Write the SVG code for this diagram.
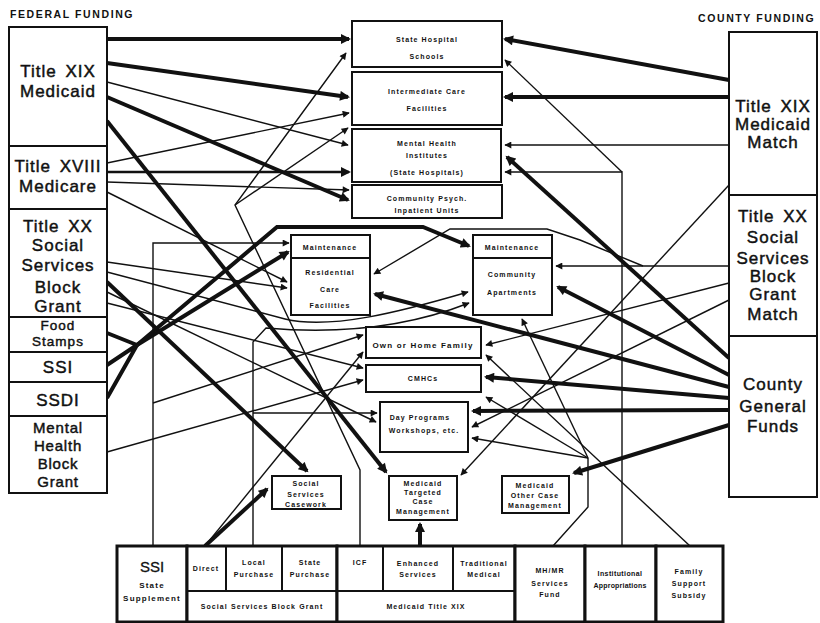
<svg xmlns="http://www.w3.org/2000/svg" width="820" height="623" viewBox="0 0 820 623">
<style>
.bx{fill:#fff;stroke:#111;stroke-width:2}
.bt{font-family:"Liberation Sans",Arial,sans-serif;font-size:17px;letter-spacing:1px;word-spacing:3px;text-anchor:middle;fill:#111;stroke:#111;stroke-width:0.45}
.bs{font-size:15px;letter-spacing:0.8px}
.bf{font-size:13.5px;letter-spacing:1px}
.hd{font-family:"Liberation Sans",Arial,sans-serif;font-size:10.5px;font-weight:bold;letter-spacing:1.6px;fill:#111}
.st{font-family:"Liberation Sans",Arial,sans-serif;font-size:7px;font-weight:bold;letter-spacing:1.1px;text-anchor:middle;fill:#111}
.sm{font-family:"Liberation Sans",Arial,sans-serif;font-size:8px;font-weight:bold;letter-spacing:1.2px;text-anchor:middle;fill:#111}
.t{fill:none;stroke:#111;stroke-width:1.4}
.m{fill:none;stroke:#111;stroke-width:2.5}
.k{fill:none;stroke:#111;stroke-width:4}
.ta{marker-end:url(#a)}
.ka{marker-end:url(#A)}
</style>
<defs>
<marker id="a" viewBox="0 0 10 10" refX="9" refY="5" markerUnits="userSpaceOnUse" markerWidth="8" markerHeight="7" orient="auto"><path d="M0,0 L10,5 L0,10 z" fill="#111"/></marker>
<marker id="A" viewBox="0 0 10 10" refX="8" refY="5" markerUnits="userSpaceOnUse" markerWidth="11" markerHeight="10" orient="auto"><path d="M0,0 L10,5 L0,10 z" fill="#111"/></marker>
</defs>
<rect width="820" height="623" fill="#fff"/>

<text class="hd" x="10" y="18">FEDERAL FUNDING</text>
<text class="hd" x="698" y="22">COUNTY FUNDING</text>

<g id="connectors">
<!-- federal -->
<path class="k ka" d="M107,39 L349,39"/>
<path class="k ka" d="M107,63 L348,97"/>
<path class="t ta" d="M107,82 L348,145"/>
<path class="k ka" d="M107,97 L348,200"/>
<path class="k ka" d="M107,121 L386,472"/>
<path class="t ta" d="M107,163 L349,113"/>
<path class="m ka" d="M107,172 L349,172"/>
<path class="t ta" d="M107,182 L349,190"/>
<path class="t ta" d="M107,192 L287,282"/>
<path class="t ta" d="M107,262 L287,288"/>
<path class="k ka" d="M107,282 L307,471"/>
<path class="t ta" d="M107,272 L285,319 C330,330 400,312 468,292"/>
<path class="t ta" d="M107,292 L376,422"/>
<path class="t ta" d="M107,303 L363,368"/>
<path class="k" d="M107,333 L137,345 M107,365 L137,345 M107,398 L137,345"/>
<path class="k ka" d="M137,345 L288,252"/>
<path class="k ka" d="M137,345 L277,227 L423,227 L469,246"/>
<path class="t ta" d="M107,452 L363,380"/>
<!-- bottom sources -->
<path class="t ta" d="M153,546 L153,243 L289,243"/>
<path class="t ta" d="M153,403 L363,335"/>
<path class="k ka" d="M205,546 L267,489"/>
<path class="t ta" d="M205,546 L363,352"/>
<path class="t ta" d="M253,546 L253,342 L266,328 Q380,338 469,303"/>
<path class="t ta" d="M253,413 L377,413"/>
<path class="t ta" d="M360,546 L360,470 L235,205 L346,53"/>
<path class="t ta" d="M235,205 L348,128"/>
<path class="k ka" d="M420,546 L420,524"/>
<path class="t" d="M553,546 L588,507 L588,458"/>
<path class="t ta" d="M588,458 L522,319"/>
<path class="t ta" d="M588,458 L486,397"/>
<path class="t ta" d="M588,458 L472,438"/>
<path class="t ta" d="M622,546 L622,172 L505,172"/>
<path class="t ta" d="M622,172 L505,60"/>
<path class="t ta" d="M690,546 L486,355"/>
<!-- county -->
<path class="k ka" d="M729,80 L505,39"/>
<path class="k ka" d="M729,97 L505,97"/>
<path class="t ta" d="M729,145 L505,145"/>
<path class="t ta" d="M729,185 L461,475"/>
<path class="t ta" d="M729,266 L556,266"/>
<path class="t ta" d="M643,266 L580,240 L547,229 L450,229 L374,274"/>
<path class="t ta" d="M729,283 L486,345"/>
<path class="t ta" d="M729,300 L472,427"/>
<path class="k ka" d="M729,358 L507,157"/>
<path class="k ka" d="M729,375 L558,287"/>
<path class="k ka" d="M729,387 L375,294"/>
<path class="k ka" d="M729,398 L486,377"/>
<path class="k ka" d="M729,410 L473,411"/>
<path class="k ka" d="M729,425 L574,473"/>
</g>

<!-- federal boxes -->
<g id="n-fed-xix"><rect class="bx" x="9" y="27" width="98" height="119"/><text class="bt" x="58" y="77">Title XIX</text><text class="bt" x="58" y="97">Medicaid</text></g>
<g id="n-fed-xviii"><rect class="bx" x="9" y="146" width="98" height="63"/><text class="bt" x="58" y="172">Title XVIII</text><text class="bt" x="58" y="192">Medicare</text></g>
<g id="n-fed-xx"><rect class="bx" x="9" y="209" width="98" height="108"/><text class="bt" x="58" y="232">Title XX</text><text class="bt" x="58" y="251">Social</text><text class="bt" x="58" y="271">Services</text><text class="bt" x="58" y="293">Block</text><text class="bt" x="58" y="312">Grant</text></g>
<g id="n-food"><rect class="bx" x="9" y="317" width="98" height="35"/><text class="bt bf" x="58" y="330">Food</text><text class="bt bf" x="58" y="346">Stamps</text></g>
<g id="n-ssi"><rect class="bx" x="9" y="352" width="98" height="30"/><text class="bt" x="58" y="373">SSI</text></g>
<g id="n-ssdi"><rect class="bx" x="9" y="382" width="98" height="34"/><text class="bt" x="58" y="406">SSDI</text></g>
<g id="n-mhbg"><rect class="bx" x="9" y="416" width="98" height="77"/><text class="bt bs" x="58" y="433">Mental</text><text class="bt bs" x="58" y="451">Health</text><text class="bt bs" x="58" y="469">Block</text><text class="bt bs" x="58" y="487">Grant</text></g>

<!-- county boxes -->
<g id="n-cty-xix"><rect class="bx" x="729" y="32" width="88" height="163"/><text class="bt" x="773" y="112">Title XIX</text><text class="bt" x="773" y="130">Medicaid</text><text class="bt" x="773" y="148">Match</text></g>
<g id="n-cty-xx"><rect class="bx" x="729" y="195" width="88" height="141"/><text class="bt" x="773" y="222">Title XX</text><text class="bt" x="773" y="243">Social</text><text class="bt" x="773" y="264">Services</text><text class="bt" x="773" y="282">Block</text><text class="bt" x="773" y="300">Grant</text><text class="bt" x="773" y="320">Match</text></g>
<g id="n-cty-gen"><rect class="bx" x="729" y="336" width="88" height="161"/><text class="bt" x="773" y="390">County</text><text class="bt" x="773" y="412">General</text><text class="bt" x="773" y="432">Funds</text></g>

<!-- service boxes -->
<g id="n-shs"><rect class="bx" x="352" y="21" width="150" height="46"/><text class="st" x="427" y="42">State Hospital</text><text class="st" x="427" y="59">Schools</text></g>
<g id="n-icf"><rect class="bx" x="352" y="72" width="150" height="53"/><text class="st" x="427" y="94">Intermediate Care</text><text class="st" x="427" y="111">Facilities</text></g>
<g id="n-mhi"><rect class="bx" x="352" y="129" width="149" height="53"/><text class="st" x="427" y="146">Mental Health</text><text class="st" x="427" y="158">Institutes</text><text class="st" x="427" y="175">(State Hospitals)</text></g>
<g id="n-cpiu"><rect class="bx" x="352" y="185" width="150" height="33"/><text class="st" x="427" y="201">Community Psych.</text><text class="st" x="427" y="213">Inpatient Units</text></g>
<g id="n-rcf"><rect class="bx" x="291" y="235" width="79" height="80"/><line x1="291" y1="258" x2="370" y2="258" stroke="#111" stroke-width="2"/><text class="st" x="330" y="250">Maintenance</text><text class="st" x="330" y="275">Residential</text><text class="st" x="330" y="292">Care</text><text class="st" x="330" y="308">Facilities</text></g>
<g id="n-apt"><rect class="bx" x="473" y="235" width="79" height="80"/><line x1="473" y1="258" x2="552" y2="258" stroke="#111" stroke-width="2"/><text class="st" x="512" y="250">Maintenance</text><text class="st" x="512" y="277">Community</text><text class="st" x="512" y="295">Apartments</text></g>
<g id="n-home"><rect class="bx" x="366" y="327" width="115" height="31"/><text class="sm" x="423" y="348">Own or Home Family</text></g>
<g id="n-cmhc"><rect class="bx" x="366" y="365" width="115" height="27"/><text class="st" x="423" y="381">CMHCs</text></g>
<g id="n-day"><rect class="bx" x="380" y="402" width="88" height="50"/><text class="st" x="420" y="420">Day Programs</text><text class="st" x="424" y="433">Workshops, etc.</text></g>
<g id="n-ssc"><rect class="bx" x="272" y="476" width="69" height="33"/><text class="st" x="306" y="486">Social</text><text class="st" x="306" y="497">Services</text><text class="st" x="306" y="507">Casework</text></g>
<g id="n-mtcm"><rect class="bx" x="389" y="476" width="68" height="44"/><text class="st" x="423" y="486">Medicaid</text><text class="st" x="423" y="495">Targeted</text><text class="st" x="423" y="504">Case</text><text class="st" x="423" y="514">Management</text></g>
<g id="n-mocm"><rect class="bx" x="502" y="476" width="67" height="37"/><text class="st" x="535" y="488">Medicaid</text><text class="st" x="535" y="498">Other Case</text><text class="st" x="535" y="508">Management</text></g>

<!-- bottom funding row -->
<g id="n-ssisupp"><rect x="117" y="546" width="70" height="76" fill="#fff" stroke="#111" stroke-width="3"/><text x="152" y="572" font-family="Liberation Sans,Arial,sans-serif" font-size="15" text-anchor="middle" fill="#111" stroke="#111" stroke-width="0.3">SSI</text><text class="sm" x="152" y="588">State</text><text class="sm" x="152" y="601">Supplement</text></g>
<g id="n-ssbg"><rect x="187" y="546" width="150" height="76" fill="#fff" stroke="#111" stroke-width="3"/><path d="M187,591 H337 M226,546 V591 M282,546 V591" stroke="#111" stroke-width="2" fill="none"/><text class="st" x="206" y="571">Direct</text><text class="st" x="254" y="565">Local</text><text class="st" x="254" y="577">Purchase</text><text class="st" x="310" y="565">State</text><text class="st" x="310" y="577">Purchase</text><text class="st" x="262" y="609">Social Services Block Grant</text></g>
<g id="n-mt19"><rect x="337" y="546" width="178" height="76" fill="#fff" stroke="#111" stroke-width="3"/><path d="M337,591 H515 M383,546 V591 M453,546 V591" stroke="#111" stroke-width="2" fill="none"/><text class="st" x="360" y="565">ICF</text><text class="st" x="418" y="566">Enhanced</text><text class="st" x="418" y="577">Services</text><text class="st" x="484" y="566">Traditional</text><text class="st" x="484" y="577">Medical</text><text class="st" x="426" y="609">Medicaid Title XIX</text></g>
<g id="n-mhmr"><rect x="515" y="546" width="70" height="76" fill="#fff" stroke="#111" stroke-width="3"/><text class="st" x="550" y="573">MH/MR</text><text class="st" x="550" y="586">Services</text><text class="st" x="550" y="597">Fund</text></g>
<g id="n-inst"><rect x="585" y="546" width="71" height="76" fill="#fff" stroke="#111" stroke-width="3"/><text class="st" x="620" y="576" style="letter-spacing:0.4px">Institutional</text><text class="st" x="620" y="588" style="letter-spacing:0.2px">Appropriations</text></g>
<g id="n-fss"><rect x="656" y="546" width="67" height="76" fill="#fff" stroke="#111" stroke-width="3"/><text class="st" x="689" y="574">Family</text><text class="st" x="689" y="586">Support</text><text class="st" x="689" y="598">Subsidy</text></g>
</svg>
